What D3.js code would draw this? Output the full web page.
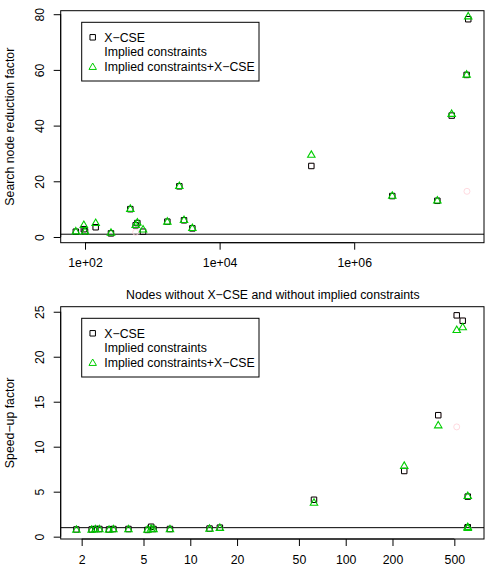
<!DOCTYPE html>
<html>
<head>
<meta charset="utf-8">
<script src="https://cdn.jsdelivr.net/npm/d3@7"></script>
<style>
  body { margin: 0; background: #fff; }
  svg text { font-family: "Liberation Sans", Arial, sans-serif; font-size: 12.3px; fill: #000; }
</style>
</head>
<body>
<svg id="chart" width="490" height="576"></svg>
<script>
// ---------------- data ----------------
// top panel: search nodes (x, log) vs reduction factor
const nodesTop      = [73, 96, 100, 144, 243, 471, 566, 599, 728, 1672, 2520, 2957, 3935, 230700, 3.68e6, 1.72e7, 2.81e7, 4.69e7, 4.95e7, 4.74e7];
const cseTop        = [1.9, 2.8, 2.0, 3.5, 1.3, 10.0, 4.2, 5.0, 1.9, 5.5, 18.2, 6.0, 3.1, 25.5, 14.7, 13.0, 43.6, 58.2, 78.2, null];
const impliedTop    = [1.9, 2.8, 2.0, 3.5, 1.3, 10.0, 1.7, 5.0, 1.9, 5.5, 18.2, 6.0, 3.1, 25.5, 14.7, 13.0, 43.6, 58.2, 78.2, 16.4];
const bothTop       = [2.1, 4.4, 2.1, 5.1, 1.6, 10.2, 4.4, 5.3, 2.8, 5.6, 18.4, 6.2, 3.3, 29.6, 14.9, 13.2, 44.3, 58.4, 79.3, null];
const yTicksTop     = [0, 20, 40, 60, 80];
const xTicksTop     = [1e2, 1e4, 1e6];
const xTickLabsTop  = ["1e+02", "1e+04", "1e+06"];

// bottom panel: nodes without X-CSE and implied constraints vs speed-up
const nodesBot      = [1.85, 2.32, 2.45, 2.6, 3.0, 3.2, 4.0, 5.3, 5.6, 5.8, 7.4, 13.3, 15.5, 62.5, 238, 394, 518, 566, 610, 610, 610, 518];
const cseBot        = [0.8, 0.8, 0.85, 0.85, 0.8, 0.85, 0.85, 0.75, 1.1, 0.85, 0.85, 0.9, 1.0, 4.1, 7.3, 13.5, 24.6, 24.0, 4.45, 1.05, 1.0, null];
const impliedBot    = [0.8, 0.8, 0.85, 0.85, 0.8, 0.85, 0.85, 0.75, 1.1, 0.85, 0.85, 0.9, 1.0, 4.1, 7.3, 13.5, 24.6, 24.0, 4.45, 1.05, 1.0, 12.2];
const bothBot       = [0.8, 0.8, 0.85, 0.85, 0.8, 0.85, 0.85, 0.8, 0.9, 0.85, 0.85, 0.9, 1.0, 3.8, 7.9, 12.4, 23.0, 23.3, 4.55, 1.0, 1.1, null];
const yTicksBot     = [0, 5, 10, 15, 20, 25];
const xTicksBot     = [2, 5, 10, 20, 50, 100, 200, 500];

const legendLabels  = ["X\u2212CSE", "Implied constraints", "Implied constraints+X\u2212CSE"];

//-------------------------- layout ---------------------------//
const svg = d3.select("#chart");
const left = 60.7, right = 484;

const panels = [
  { top: 10.7, bottom: 242.7, xDomain: [43.5, 8.49e7], yDomain: [-2.05, 81.26],
    x: nodesTop, cse: cseTop, imp: impliedTop, both: bothTop,
    yTicks: yTicksTop, xTicks: xTicksTop, xLabs: xTickLabsTop,
    ylab: "Search node reduction factor", title: null },
  { top: 306.7, bottom: 539, xDomain: [1.466, 776], yDomain: [-0.26, 25.56],
    x: nodesBot, cse: cseBot, imp: impliedBot, both: bothBot,
    yTicks: yTicksBot, xTicks: xTicksBot, xLabs: xTicksBot.map(String),
    ylab: "Speed\u2212up factor", title: "Nodes without X\u2212CSE and without implied constraints" }
];

const green = "#00cd00";
const sq = d3.symbol().type(d3.symbolSquare).size(30);
const tri = d3.symbol().type(d3.symbolTriangle).size(24);

panels.forEach(function(p) {
  const xScale = d3.scaleLog().domain(p.xDomain).range([left, right]);
  const yScale = d3.scaleLinear().domain(p.yDomain).range([p.bottom, p.top]);
  const g = svg.append("g");

  // reference line at 1
  g.append("line")
    .attr("x1", left).attr("x2", right)
    .attr("y1", yScale(1)).attr("y2", yScale(1))
    .attr("stroke", "#000").attr("stroke-width", 1);

  // implied constraints (faint pink circles)
  g.selectAll(".imp").data(p.x.map((d, i) => [d, p.imp[i]]).filter(d => d[1] != null))
    .enter().append("circle")
    .attr("cx", d => xScale(d[0])).attr("cy", d => yScale(d[1]))
    .attr("r", 3).attr("fill", "none")
    .attr("stroke", "#ffd0d8").attr("stroke-width", 0.8);

  // X-CSE squares
  g.selectAll(".cse").data(p.x.map((d, i) => [d, p.cse[i]]).filter(d => d[1] != null))
    .enter().append("path")
    .attr("d", sq)
    .attr("transform", d => "translate(" + xScale(d[0]) + "," + yScale(d[1]) + ")")
    .attr("fill", "none").attr("stroke", "#000").attr("stroke-width", 1);

  // implied + X-CSE triangles
  g.selectAll(".both").data(p.x.map((d, i) => [d, p.both[i]]).filter(d => d[1] != null))
    .enter().append("path")
    .attr("d", tri)
    .attr("transform", d => "translate(" + xScale(d[0]) + "," + (yScale(d[1]) + 0.6) + ")")
    .attr("fill", "none").attr("stroke", green).attr("stroke-width", 1.1);

  // box
  g.append("rect")
    .attr("x", left).attr("y", p.top)
    .attr("width", right - left).attr("height", p.bottom - p.top)
    .attr("fill", "none").attr("stroke", "#000").attr("stroke-width", 1);

  // x axis
  const xaxis = d3.axisBottom(xScale)
    .tickValues(p.xTicks)
    .tickFormat((d, i) => p.xLabs[i])
    .tickSizeInner(7).tickSizeOuter(0).tickPadding(9);
  const gx = g.append("g")
    .attr("transform", "translate(0," + p.bottom + ")")
    .call(xaxis);
  gx.select(".domain")
    .attr("d", "M" + xScale(p.xTicks[0]) + ",0H" + xScale(p.xTicks[p.xTicks.length - 1]));
  gx.selectAll("text").attr("font-size", null).attr("font-family", null);

  // y axis (labels parallel to axis, as in R)
  const yaxis = d3.axisLeft(yScale)
    .tickValues(p.yTicks)
    .tickSizeInner(7).tickSizeOuter(0);
  const gy = g.append("g")
    .attr("transform", "translate(" + left + ",0)")
    .call(yaxis);
  gy.select(".domain")
    .attr("d", "M0," + yScale(p.yTicks[0]) + "V" + yScale(p.yTicks[p.yTicks.length - 1]));
  gy.selectAll("text")
    .attr("x", null).attr("dy", null).attr("y", 0)
    .attr("font-size", null).attr("font-family", null)
    .attr("text-anchor", "middle")
    .attr("transform", "translate(-16.5,0) rotate(-90)");

  // y title
  g.append("text")
    .attr("transform", "translate(14," + (p.top + p.bottom) / 2 + ") rotate(-90)")
    .attr("text-anchor", "middle")
    .text(p.ylab);

  if (p.title) {
    g.append("text")
      .attr("x", (left + right) / 2 + 0.5).attr("y", p.top - 7.5)
      .attr("text-anchor", "middle")
      .text(p.title);
  }

  // legend
  const lx = 81.7, ly = p.top + 11.6;
  const lg = g.append("g");
  lg.append("rect")
    .attr("x", lx).attr("y", ly)
    .attr("width", 177.3).attr("height", 58.7)
    .attr("fill", "#fff").attr("stroke", "#000").attr("stroke-width", 1);
  legendLabels.forEach(function(lab, i) {
    const cy = ly + 15 + i * 14.7;
    if (i === 0) {
      lg.append("path").attr("d", sq)
        .attr("transform", "translate(" + (lx + 11) + "," + cy + ")")
        .attr("fill", "none").attr("stroke", "#000");
    } else if (i === 2) {
      lg.append("path").attr("d", tri)
        .attr("transform", "translate(" + (lx + 11) + "," + (cy + 0.6) + ")")
        .attr("fill", "none").attr("stroke", green);
    }
    lg.append("text")
      .attr("x", lx + 22.6).attr("y", cy + 4.3)
      .text(lab);
  });
});
</script>
</body>
</html>
